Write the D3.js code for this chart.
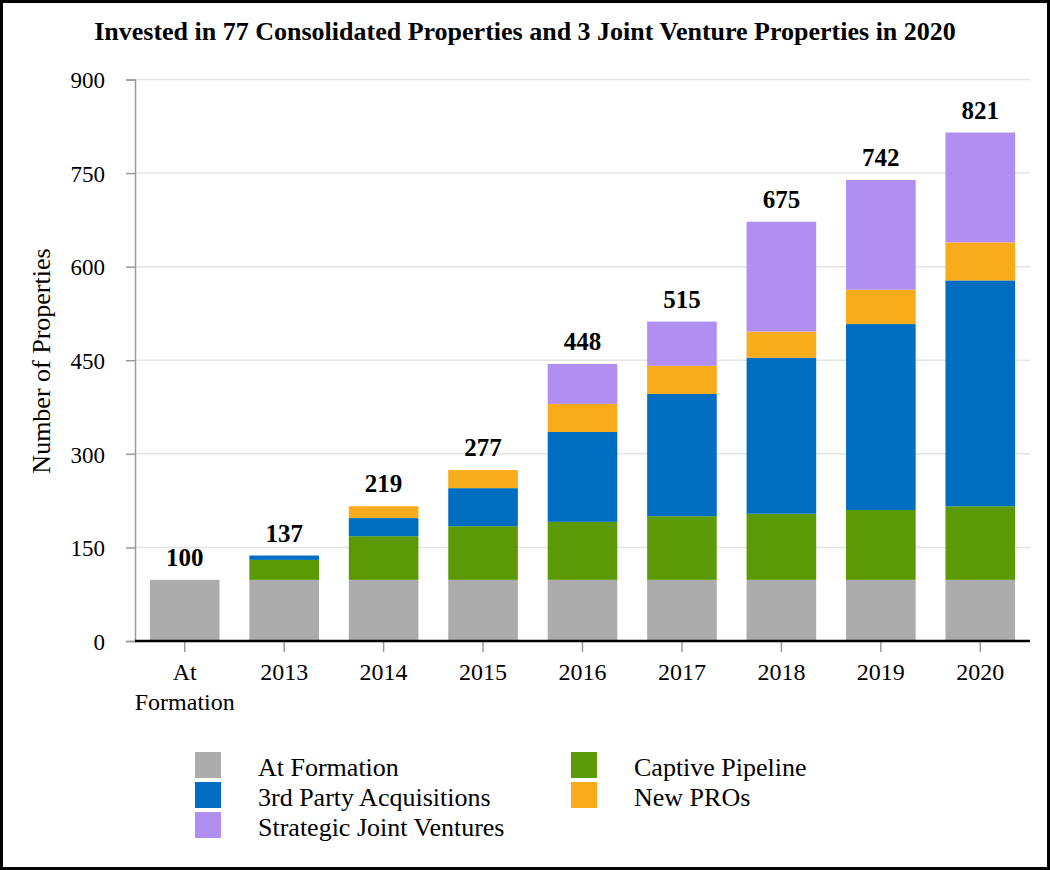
<!DOCTYPE html>
<html>
<head>
<meta charset="utf-8">
<script src="https://cdn.jsdelivr.net/npm/d3@7"></script>
<style>
  html, body { margin: 0; padding: 0; background: #fff; }
  svg text { font-family: "Liberation Serif", "Times New Roman", serif; }
</style>
</head>
<body>
<svg id="chart" width="1050" height="870"></svg>
<script>
// ---- data ----
const categories = ["At Formation", "2013", "2014", "2015", "2016", "2017", "2018", "2019", "2020"];
const atFormation = [98, 98, 98, 98, 98, 98, 98, 98, 98];
const captivePipeline = [0, 32, 70, 86, 93, 102, 106, 112, 118];
const thirdParty = [0, 7, 29, 61, 144, 196, 250, 298, 362];
const newPROs = [0, 0, 19, 29, 45, 45, 42, 55, 61];
const jointVentures = [0, 0, 0, 0, 64, 71, 176, 176, 176];
const totalLabels = ["100", "137", "219", "277", "448", "515", "675", "742", "821"];
const yTicks = [0, 150, 300, 450, 600, 750, 900];
const seriesNames = ["At Formation", "Captive Pipeline", "3rd Party Acquisitions", "New PROs", "Strategic Joint Ventures"];
const seriesColors = ["#acacac", "#5b9a06", "#006ec0", "#f9ac1b", "#b18ef1"];
const titleText = "Invested in 77 Consolidated Properties and 3 Joint Venture Properties in 2020";
const yAxisTitle = "Number of Properties";

// ---- build table ----
const seriesValues = [atFormation, captivePipeline, thirdParty, newPROs, jointVentures];
const keys = ["s0", "s1", "s2", "s3", "s4"];
const table = categories.map((c, i) => {
  const row = { cat: c };
  keys.forEach((k, j) => row[k] = seriesValues[j][i]);
  return row;
});
const stacked = d3.stack().keys(keys)(table);

const svg = d3.select("#chart");
const W = 1050, H = 870;
const plot = { left: 135, right: 1030, top: 79.5, bottom: 641 };

svg.append("rect").attr("width", W).attr("height", H).attr("fill", "#fff");

const x = d3.scaleBand().domain(categories).range([plot.left, plot.right]).paddingInner(0.3).paddingOuter(0.15);
const y = d3.scaleLinear().domain([0, 900]).range([plot.bottom, plot.top]);

// gridlines
svg.append("g").selectAll("line").data(yTicks.filter(t => t > 0)).join("line")
  .attr("x1", plot.left).attr("x2", plot.right)
  .attr("y1", d => y(d)).attr("y2", d => y(d))
  .attr("stroke", "#e4e4e4").attr("stroke-width", 1.5);

// y axis
const yAxis = d3.axisLeft(y).tickValues(yTicks).tickSize(9).tickPadding(7).tickFormat(d3.format("d"));
const gy = svg.append("g").attr("transform", `translate(${plot.left},0)`).call(yAxis);
gy.select(".domain").attr("stroke", "#9a9a9a").attr("stroke-width", 1.5);
gy.selectAll(".tick line").attr("stroke", "#9a9a9a").attr("stroke-width", 1.5);
gy.selectAll(".tick text").attr("font-size", 23).attr("fill", "#000")
  .attr("font-family", "Liberation Serif, serif").attr("x", -30).attr("dy", "0.36em");

// bars
svg.append("g").selectAll("g").data(stacked).join("g")
  .attr("fill", (d, i) => seriesColors[i])
  .selectAll("rect").data(d => d).join("rect")
  .attr("x", d => x(d.data.cat))
  .attr("width", x.bandwidth())
  .attr("y", d => y(d[1]))
  .attr("height", d => Math.max(0, y(d[0]) - y(d[1])));

// x axis
const xAxis = d3.axisBottom(x).tickSize(10).tickFormat("");
const gx = svg.append("g").attr("transform", `translate(0,${plot.bottom + 1})`).call(xAxis);
gx.select(".domain").remove();
gx.selectAll(".tick line").attr("stroke", "#9a9a9a").attr("stroke-width", 1.5);
svg.append("line").attr("x1", plot.left).attr("x2", plot.right)
  .attr("y1", plot.bottom).attr("y2", plot.bottom)
  .attr("stroke", "#000").attr("stroke-width", 2.5);

// x tick labels
const xl = svg.append("g");
categories.forEach(c => {
  const words = c === "At Formation" ? ["At", "Formation"] : [c];
  words.forEach((w, k) => {
    xl.append("text").attr("x", x(c) + x.bandwidth() / 2).attr("y", 680 + k * 30)
      .attr("text-anchor", "middle").attr("font-size", 24).text(w);
  });
});

// total labels
svg.append("g").selectAll("text").data(table).join("text")
  .attr("x", d => x(d.cat) + x.bandwidth() / 2)
  .attr("y", d => y(keys.reduce((s, k) => s + d[k], 0)) - 14)
  .attr("text-anchor", "middle").attr("font-size", 25).attr("font-weight", "bold")
  .text((d, i) => totalLabels[i]);

// title
svg.append("text").attr("x", 525).attr("y", 40).attr("text-anchor", "middle")
  .attr("font-size", 26).attr("font-weight", "bold").text(titleText);

// y axis title
svg.append("text").attr("transform", "translate(50,361) rotate(-90)")
  .attr("text-anchor", "middle").attr("font-size", 26).text(yAxisTitle);

// legend
const legendOrder = [0, 2, 4, 1, 3];
const legendPos = [[195, 752], [195, 782], [195, 812], [571, 752], [571, 782]];
const lg = svg.append("g");
legendOrder.forEach((si, k) => {
  const [lx, ly] = legendPos[k];
  lg.append("rect").attr("x", lx).attr("y", ly).attr("width", 26).attr("height", 26).attr("fill", seriesColors[si]);
  lg.append("text").attr("x", lx + 63).attr("y", ly + 24).attr("font-size", 26).text(seriesNames[si]);
});

// outer border
svg.append("rect").attr("x", 1.5).attr("y", 1.5).attr("width", W - 3).attr("height", H - 3)
  .attr("fill", "none").attr("stroke", "#000").attr("stroke-width", 3);
</script>
</body>
</html>
